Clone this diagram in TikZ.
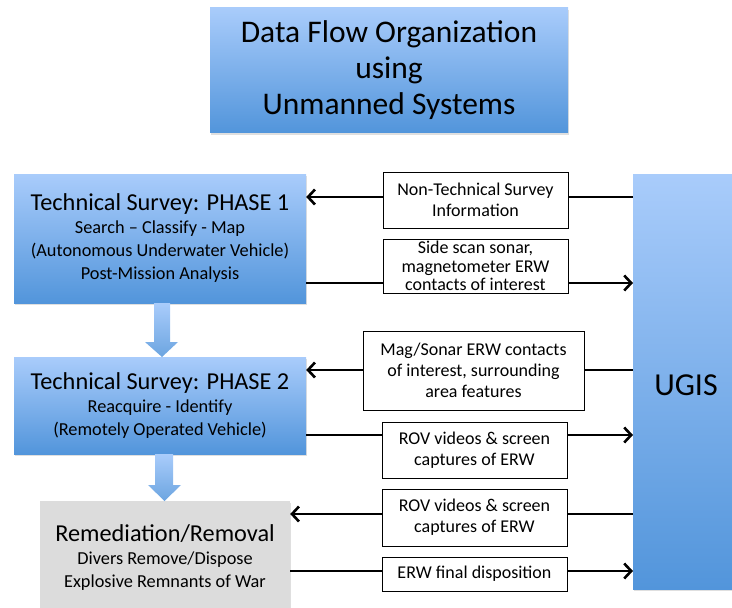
\documentclass[tikz,border=0pt]{standalone}
\usepackage{fontspec}
\setmainfont{Carlito}
\usetikzlibrary{arrows.meta,shadows}

\definecolor{boxtop}{HTML}{A9CCFB}
\definecolor{boxbot}{HTML}{5295DB}
\definecolor{remfill}{HTML}{DCDCDC}

\newcommand{\headfont}{\fontsize{24.3}{23}\selectfont}

\tikzset{
  bluebox/.style={draw=none, top color=boxtop, bottom color=boxbot,
    drop shadow={shadow xshift=1pt, shadow yshift=-2pt, opacity=0.25},
    align=center, inner sep=0pt},
  stagebox/.style={bluebox, minimum width=292pt, font=\fontsize{18.3}{23}\selectfont},
  labelbox/.style={draw=black, line width=0.8pt, fill=white, align=center,
    inner sep=0pt, font=\fontsize{18}{21}\selectfont},
  flow/.style={line width=2.6pt, -{Straight Barb[length=7pt,width=15pt,line width=2.6pt]}},
  blockarrow/.style={top color=boxtop, bottom color=boxbot!85!white, draw=none},
}

\begin{document}
\begin{tikzpicture}[x=1pt,y=-1pt]
\useasboundingbox (0,0) rectangle (732,608);

% title
\node[bluebox, minimum width=358pt, minimum height=125pt,
      font=\fontsize{31.5}{36}\selectfont] (title) at (389,70)
  {Data Flow Organization\\using\\Unmanned Systems};

% stages
\node[stagebox, minimum height=129pt] (p1) at (160,238.5)
  {{\headfont Technical Survey: PHASE 1}\\Search -- Classify - Map\\(Autonomous Underwater Vehicle)\\Post-Mission Analysis};
\node[stagebox, minimum height=97pt] (p2) at (160,405.5)
  {{\headfont Technical Survey: PHASE 2}\\Reacquire - Identify\\(Remotely Operated Vehicle)};
\node[draw=none, fill=remfill, minimum width=250pt, minimum height=112pt, inner sep=0pt,
      drop shadow={shadow xshift=1pt, shadow yshift=-2pt, opacity=0.25},
      anchor=north, align=center, font=\fontsize{18.3}{23}\selectfont] (rem) at (165,501)
  {{\headfont Remediation/Removal}\\Divers Remove/Dispose\\Explosive Remnants of War};

% UGIS
\node[bluebox, minimum width=110pt, minimum height=415pt, anchor=north west] (ugis) at (633,174) {};
\node[font=\fontsize{32}{36}\selectfont] (ugist) at (686,385) {UGIS};

% block arrows between stages
\path[blockarrow] (p1.south -| 154,0) -- (170,303) -- (170,342) -- (178,342) -- (162,357)
  -- (145,342) -- (154,342) -- cycle;
\path[blockarrow] (p2.south -| 155,0) -- (173,454) -- (173,485) -- (181,485) -- (164.5,501)
  -- (148,485) -- (155,485) -- cycle;

% connectors
\coordinate (y1) at (0,197);
\coordinate (y2) at (0,283);
\coordinate (y3) at (0,370);
\coordinate (y4) at (0,435);
\coordinate (y5) at (0,514);
\coordinate (y6) at (0,571);
\draw[flow] (ugis.west |- y1) -- (p1.east |- y1);
\draw[flow] (p1.east |- y2) -- (ugis.west |- y2);
\draw[flow] (ugis.west |- y3) -- (p2.east |- y3);
\draw[flow] (p2.east |- y4) -- (ugis.west |- y4);
\draw[flow] (ugis.west |- y5) -- (rem.east |- y5);
\draw[flow] (rem.east |- y6) -- (ugis.west |- y6);

% labels on the connectors
\node[labelbox, minimum width=185pt, minimum height=56pt] (l1) at (475.5,200)
  {Non-Technical Survey\\Information};
\node[labelbox, minimum width=185pt, minimum height=54pt, font=\fontsize{18}{18.5}\selectfont] (l2) at (475.5,266)
  {Side scan sonar,\\magnetometer ERW\\contacts of interest};
\node[labelbox, minimum width=221pt, minimum height=79pt] (l3) at (473.5,370.5)
  {Mag/Sonar ERW contacts\\of interest, surrounding\\area features};
\node[labelbox, minimum width=185pt, minimum height=56pt] (l4) at (474.5,450)
  {ROV videos \& screen\\captures of ERW};
\node[labelbox, minimum width=185pt, minimum height=57pt] (l5) at (474.5,517.5)
  {ROV videos \& screen\\captures of ERW};
\node[labelbox, minimum width=185pt, minimum height=34pt] (l6) at (474.5,574)
  {ERW final disposition};
\end{tikzpicture}
\end{document}
